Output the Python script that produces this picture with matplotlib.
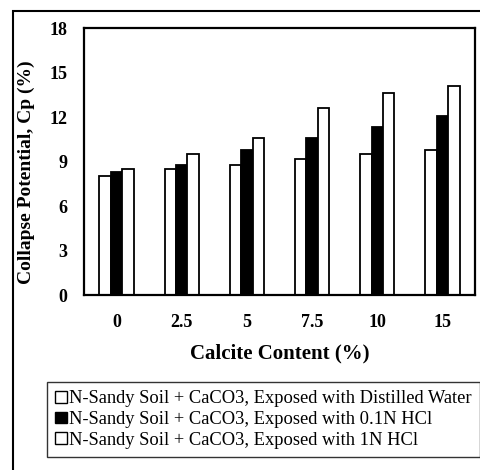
import numpy as np
import matplotlib.pyplot as plt
from matplotlib.patches import Rectangle, Patch

plt.rcParams['font.family'] = ['Liberation Serif', 'DejaVu Serif']

calcite = ['0', '2.5', '5', '7.5', '10', '15']
cp_water = [8.0, 8.5, 8.8, 9.2, 9.5, 9.8]
cp_01n_hcl = [8.3, 8.8, 9.8, 10.6, 11.3, 12.1]
cp_1n_hcl = [8.5, 9.5, 10.6, 12.6, 13.6, 14.1]
series_labels = [
    'N-Sandy Soil + CaCO3, Exposed with Distilled Water',
    'N-Sandy Soil + CaCO3, Exposed with 0.1N HCl',
    'N-Sandy Soil + CaCO3, Exposed with 1N HCl',
]

fig = plt.figure(figsize=(4.81, 4.70), dpi=100)
ax = fig.add_axes([0.1746, 0.3723, 0.8129, 0.568])

x = np.arange(len(calcite))
w = 0.175
ax.bar(x - w, cp_water, w, color='white', edgecolor='black', linewidth=1.3)
ax.bar(x, cp_01n_hcl, w, color='black', edgecolor='black', linewidth=1.3)
ax.bar(x + w, cp_1n_hcl, w, color='white', edgecolor='black', linewidth=1.3)

ax.set_xlim(-0.5, len(calcite) - 0.5)
ax.set_ylim(0, 18)
ax.set_yticks(range(0, 19, 3))
ax.set_xticks(x)
ax.set_xticklabels(calcite)
ax.tick_params(length=0, labelsize=13)
ax.tick_params(axis='y', pad=12)
ax.tick_params(axis='x', pad=14)
for lab in ax.get_xticklabels() + ax.get_yticklabels():
    lab.set_fontweight('bold')
for s in ax.spines.values():
    s.set_linewidth(1.6)

ax.set_xlabel('Calcite Content (%)', fontsize=15, fontweight='bold', labelpad=9)
ax.set_ylabel('Collapse Potential, Cp (%)', fontsize=14, fontweight='bold')
ax.yaxis.set_label_coords(-0.125, 0.46)

handles = [Patch(facecolor=c, edgecolor='black') for c in ['white', 'black', 'white']]
leg = fig.legend(handles, series_labels, loc='upper left',
                 bbox_to_anchor=(0.098, 0.187), bbox_transform=fig.transFigure,
                 fontsize=13.3, frameon=True, fancybox=False, edgecolor='black',
                 handlelength=0.6, handleheight=0.6, handletextpad=0.15,
                 borderpad=0.45, labelspacing=0.2, borderaxespad=0)
leg.get_frame().set_linewidth(1.0)

fig.add_artist(Rectangle((0.027, -0.01), 0.99, 0.987, transform=fig.transFigure,
                         fill=False, edgecolor='black', linewidth=1.5))

fig.savefig('out.png', dpi=100)
